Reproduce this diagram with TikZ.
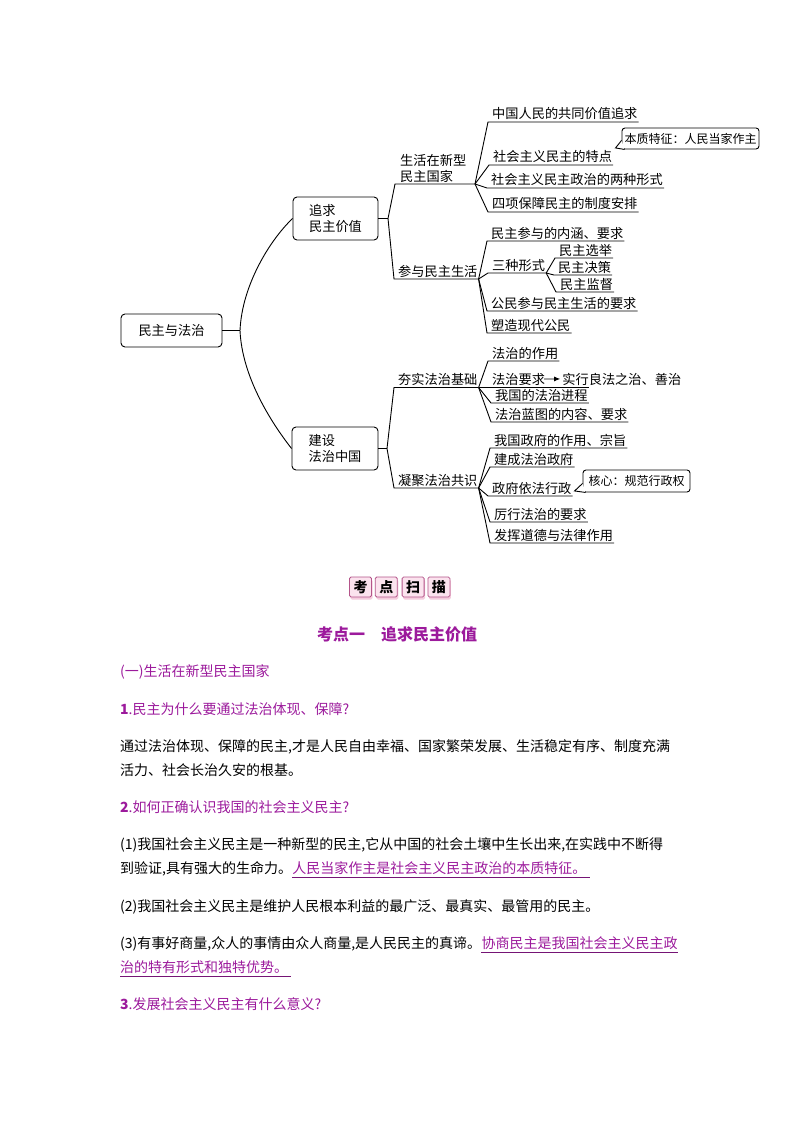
\documentclass[tikz,border=0pt]{standalone}
\usepackage{fontspec}
\setmainfont{Noto Sans CJK SC}
\usepackage{xcolor}
\definecolor{kdpurple}{HTML}{9C1A9C}
\definecolor{kdpink}{HTML}{B4558A}
\definecolor{kdpinkbg}{HTML}{FBE3EE}
\definecolor{kdshadow}{HTML}{F4CCDD}
\usetikzlibrary{positioning,arrows.meta,calc,shadows}
\newcommand{\mmfont}{\fontsize{13.2}{16}\selectfont}
\newcommand{\cofont}{\fontsize{12}{14}\selectfont}
\newcommand{\bodyfont}{\fontsize{14}{24}\selectfont}
\newcommand{\titlefont}{\fontsize{16}{20}\selectfont}
\tikzset{
  mbox/.style   ={rectangle, rounded corners=4pt, draw=black, line width=0.9pt, fill=white,
                  align=left, inner sep=0pt, font=\mmfont},
  leaf/.style   ={anchor=base west, inner sep=0pt, font=\mmfont},
  conn/.style   ={line width=0.9pt, black},
  callout/.style={rectangle, rounded corners=3pt, draw=black, line width=0.9pt, fill=white,
                  inner sep=0pt, minimum height=21pt, font=\cofont},
  arr/.style    ={-{Latex[length=6pt,width=5pt]}, line width=0.9pt},
  kbox/.style   ={rectangle, rounded corners=1.5pt, draw=kdpink, line width=0.8pt, fill=kdpinkbg,
                  minimum width=22pt, minimum height=20pt, inner sep=0pt, font=\bodyfont\bfseries,
                  drop shadow={shadow xshift=1pt, shadow yshift=-2.5pt, fill=kdshadow, opacity=1}},
  body/.style   ={anchor=base west, inner sep=0pt, font=\bodyfont},
  hd/.style     ={body, text=kdpurple},
  hl/.style     ={body, text=kdpurple},
  hlline/.style ={draw=kdpurple!75!black, line width=0.8pt},
}
% leaf: name, underline x, underline y, text, parent
\newcommand{\mmleaf}[5]{%
  \coordinate (#1s) at (#2,#3);
  \node[leaf] (#1) at ($(#1s)+(4,-3)$) {#4};
  \draw[conn] (#5) -- (#1s) -- ($(#1.base east)+(1,3)$);
}

\begin{document}
\begin{tikzpicture}[x=1pt,y=-1pt]
  \useasboundingbox (0,0) rectangle (794,1123);
  \fill[white] (0,0) rectangle (794,1123);

  % mind map
  \node[mbox, minimum width=101pt, minimum height=33pt] (root) at (171.5,330.5) {民主与法治};
  \node[mbox, minimum width=85pt, minimum height=43pt] (pursue) at (335.5,218.5) {追求\\民主价值};
  \node[mbox, minimum width=86pt, minimum height=43pt] (build) at (335,448.5) {建设\\法治中国};
  \coordinate (j0) at (240,330.5);
  \coordinate (j1) at (388,218.5);
  \coordinate (j2) at (387,448.5);
  \draw[conn] (root) -- (j0);
  \draw[conn] (pursue.west) .. controls (270,240) and (242,285) .. (j0)
              .. controls (242,376) and (270,421) .. (build.west);
  \draw[conn] (pursue) -- (j1);
  \draw[conn] (build) -- (j2);

  \node[leaf, anchor=south west, align=left] (life) at (400,182.5) {生活在新型\\民主国家};
  \coordinate (lifes) at (395,184);
  \coordinate (ja) at (475,184);
  \draw[conn] (j1) -- (lifes) -- (ja);
  \mmleaf{part}{394}{279}{参与民主生活}{j1}
  \coordinate (jb) at ($(part.base east)+(1,3)$);

  \mmleaf{a1}{488}{122}{中国人民的共同价值追求}{ja}
  \mmleaf{a2}{489}{165}{社会主义民主的特点}{ja}
  \mmleaf{a3}{487}{188}{社会主义民主政治的两种形式}{ja}
  \mmleaf{a4}{488}{212}{四项保障民主的制度安排}{ja}
  \node[callout, minimum width=137pt] (co1) at (690.5,138.5) {本质特征：人民当家作主};
  \draw[conn, fill=white] ($(co1.south west)+(0,-9)$) -- ($(co1.south west)+(-6,-1.5)$)
                          -- ($(co1.south west)+(3,0)$);

  \mmleaf{b1}{487}{241}{民主参与的内涵、要求}{jb}
  \mmleaf{b2}{488}{273}{三种形式}{jb}
  \coordinate (jc) at ($(b2.base east)+(1,3)$);
  \mmleaf{c1}{555}{258}{民主选举}{jc}
  \mmleaf{c2}{554}{275}{民主决策}{jc}
  \mmleaf{c3}{556}{292}{民主监督}{jc}
  \mmleaf{b3}{487}{311}{公民参与民主生活的要求}{jb}
  \mmleaf{b4}{487}{333}{塑造现代公民}{jb}

  \mmleaf{found}{394}{387.5}{夯实法治基础}{j2}
  \coordinate (jd) at ($(found.base east)+(1,3)$);
  \mmleaf{cons}{394}{488}{凝聚法治共识}{j2}
  \coordinate (je) at ($(cons.base east)+(1,3)$);

  \mmleaf{d1}{488}{361}{法治的作用}{jd}
  \node[leaf] (d2) at (492,384) {法治要求};
  \node[leaf] (d2b) at ($(d2.base east)+(17,0)$) {实行良法之治、善治};
  \draw[arr] ([xshift=-1pt]d2.east) -- ([xshift=-2pt]d2b.west);
  \draw[conn] (jd) -- ++(110,0) coordinate (d2e);
  \mmleaf{d3}{491}{403}{我国的法治进程}{jd}
  \mmleaf{d4}{491}{422}{法治蓝图的内容、要求}{jd}

  \mmleaf{e1}{490}{448}{我国政府的作用、宗旨}{je}
  \mmleaf{e2}{490}{467}{建成法治政府}{je}
  \mmleaf{e3}{488}{496}{政府依法行政}{je}
  \mmleaf{e4}{490}{522}{厉行法治的要求}{je}
  \mmleaf{e5}{490}{543}{发挥道德与法律作用}{je}
  \node[callout, minimum width=107pt, minimum height=22pt] (co2) at (636.5,481) {核心：规范行政权};
  \draw[conn, fill=white] ($(co2.south west)+(0,-9)$) -- ($(co2.south west)+(-8,-1.5)$)
                          -- ($(co2.south west)+(3,0)$);

  % exam point scan
  \node[kbox] (k1) at (360.5,587) {考};
  \node[kbox, right=3pt of k1] (k2) {点};
  \node[kbox, right=4pt of k2] (k3) {扫};
  \node[kbox, right=3pt of k3] (k4) {描};
  \node[font=\titlefont\bfseries, text=kdpurple, anchor=base, inner sep=0pt] (title) at (397,640) {考点一　追求民主价值};

  \node[hd] (s1) at (120,676) {(一)生活在新型民主国家};
  \node[hd] (q1) at (120,714) {\textbf{1}.民主为什么要通过法治体现、保障?};
  \node[body] (p1) at (120,751) {通过法治体现、保障的民主,才是人民自由幸福、国家繁荣发展、生活稳定有序、制度充满};
  \node[body] (p2) at (120,775) {活力、社会长治久安的根基。};
  \node[hd] (q2) at (120,812) {\textbf{2}.如何正确认识我国的社会主义民主?};
  \node[body] (r1) at (120,849) {(1)我国社会主义民主是一种新型的民主,它从中国的社会土壤中生长出来,在实践中不断得};
  \node[body] (r2) at (120,873) {到验证,具有强大的生命力。};
  \node[hl] (r2h) at (r2.base east) {人民当家作主是社会主义民主政治的本质特征。};
  \draw[hlline] ($(r2h.base west)+(0,4)$) -- ($(r2h.base east)+(3,4)$);
  \node[body] (r3) at (120,911) {(2)我国社会主义民主是维护人民根本利益的最广泛、最真实、最管用的民主。};
  \node[body] (r4) at (120,948) {(3)有事好商量,众人的事情由众人商量,是人民民主的真谛。};
  \node[hl] (r4h) at (r4.base east) {协商民主是我国社会主义民主政};
  \draw[hlline] ($(r4h.base west)+(0,4)$) -- ($(r4h.base east)+(0,4)$);
  \node[hl] (r5) at (120,972) {治的特有形式和独特优势。};
  \draw[hlline] ($(r5.base west)+(0,4)$) -- ($(r5.base east)+(3,4)$);
  \node[hd] (q3) at (120,1009) {\textbf{3}.发展社会主义民主有什么意义?};
\end{tikzpicture}
\end{document}
